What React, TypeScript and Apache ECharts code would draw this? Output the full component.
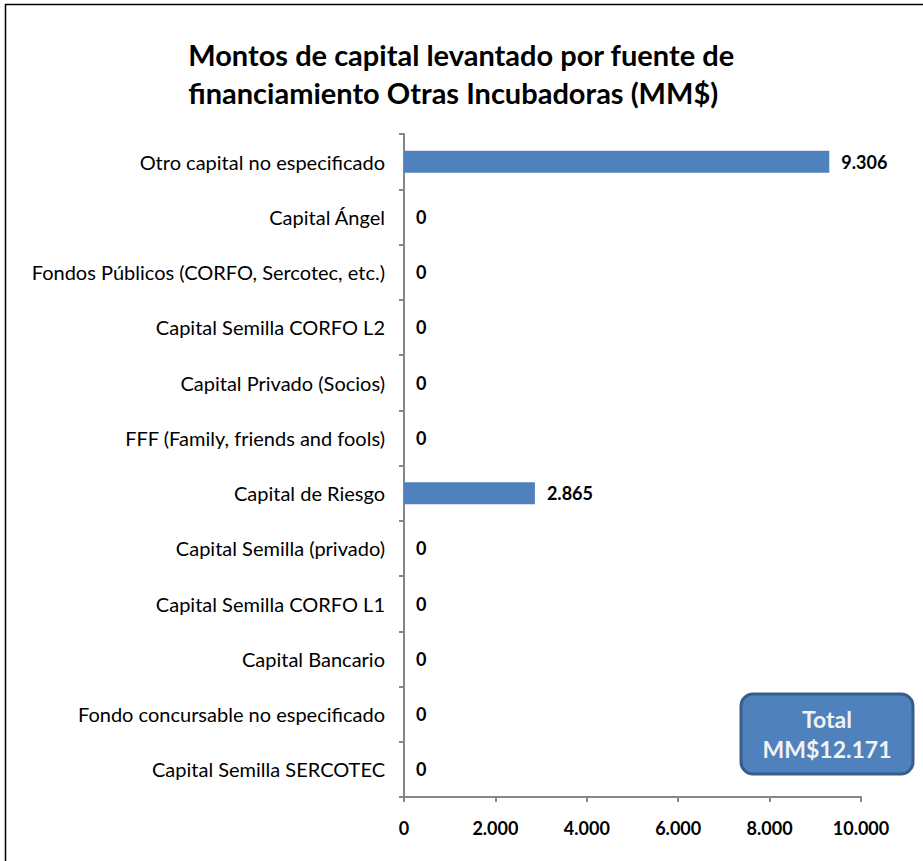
import React, { useEffect, useRef } from "react";
import * as echarts from "echarts";

const categories = [
  "Otro capital no especificado",
  "Capital Ángel",
  "Fondos Públicos (CORFO, Sercotec, etc.)",
  "Capital Semilla CORFO L2",
  "Capital Privado (Socios)",
  "FFF (Family, friends and fools)",
  "Capital de Riesgo",
  "Capital Semilla (privado)",
  "Capital Semilla CORFO L1",
  "Capital Bancario",
  "Fondo concursable no especificado",
  "Capital Semilla SERCOTEC",
];
const values = [9306, 0, 0, 0, 0, 0, 2865, 0, 0, 0, 0, 0];
const titleLines = [
  "Montos de capital levantado por fuente de",
  "financiamiento Otras Incubadoras (MM$)",
];
const totalLines = ["Total", "MM$12.171"];

const fmt = (v: number) =>
  String(Math.round(v)).replace(/\B(?=(\d{3})+(?!\d))/g, ".");

const FONT = "Lato, 'Open Sans', sans-serif";

export default function App() {
  const ref = useRef<HTMLDivElement>(null);
  useEffect(() => {
    const chart = echarts.init(ref.current!, undefined, { renderer: "svg" });
    chart.setOption({
      animation: false,
      backgroundColor: "#ffffff",
      textStyle: { fontFamily: FONT },
      grid: { left: 404, top: 134, right: 62, bottom: 64, containLabel: false },
      xAxis: {
        type: "value",
        min: 0,
        max: 10000,
        interval: 2000,
        axisLine: { show: true, lineStyle: { color: "#868686", width: 2 } },
        axisTick: { show: true, length: 5, lineStyle: { color: "#868686", width: 2 } },
        splitLine: { show: false },
        axisLabel: {
          color: "#000",
          fontWeight: "bold",
          fontSize: 18,
          fontFamily: FONT,
          margin: 22,
          formatter: (v: number) => fmt(v),
        },
      },
      yAxis: {
        type: "category",
        inverse: true,
        data: categories,
        axisLine: { show: true, lineStyle: { color: "#868686", width: 2 } },
        axisTick: { show: true, length: 5, lineStyle: { color: "#868686", width: 2 } },
        axisLabel: {
          color: "#000",
          fontSize: 20,
          fontFamily: FONT,
          margin: 19,
        },
      },
      series: [
        {
          type: "bar",
          data: values,
          barWidth: 22,
          itemStyle: { color: "#4F81BD" },
          label: {
            show: true,
            position: "right",
            distance: 12,
            color: "#000",
            fontWeight: "bold",
            fontSize: 18,
            fontFamily: FONT,
            formatter: (p: any) => fmt(p.value),
          },
        },
      ],
      graphic: [
        {
          type: "rect",
          shape: { x: 5.5, y: 4.5, width: 940, height: 900 },
          style: { fill: "none", stroke: "#000", lineWidth: 1.5 },
          silent: true,
        },
        {
          type: "text",
          left: "center",
          top: 35,
          style: {
            text: titleLines.join("\n"),
            font: `bold 29px ${FONT}`,
            fill: "#000",
            align: "center",
            lineHeight: 38,
          },
        },
        {
          type: "rect",
          shape: { x: 741, y: 694, width: 172, height: 80, r: 12 },
          style: { fill: "#4F81BD", stroke: "#385D8A", lineWidth: 3 },
        },
        {
          type: "text",
          x: 827,
          y: 734,
          style: {
            text: totalLines.join("\n"),
            font: `bold 23px ${FONT}`,
            fill: "#F2F2F2",
            align: "center",
            verticalAlign: "middle",
            lineHeight: 30,
          },
        },
      ],
    });
    return () => chart.dispose();
  }, []);
  return (
    <div
      ref={ref}
      style={{ position: "fixed", left: 0, top: 0, width: 923, height: 861 }}
    />
  );
}
